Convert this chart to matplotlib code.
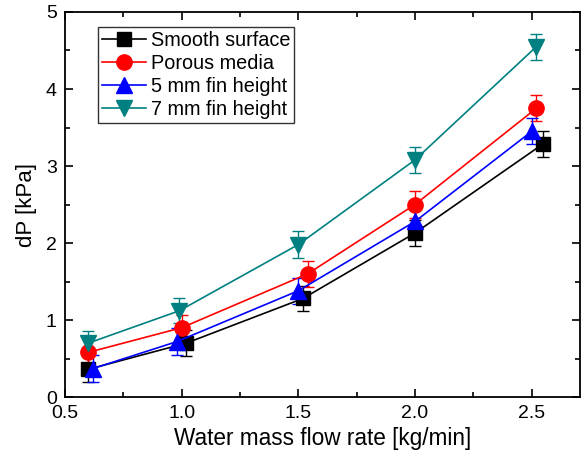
import matplotlib
matplotlib.use("Agg")
import matplotlib.pyplot as plt
from matplotlib.ticker import MultipleLocator

plt.rcParams['font.family'] = ['Liberation Sans', 'DejaVu Sans']

labels = ["Smooth surface", "Porous media", "5 mm fin height", "7 mm fin height"]
colors = ["#000000", "#FF0000", "#0000FF", "#008080"]
markers = ["s", "o", "^", "v"]
msizes = [9.5, 11, 11.5, 11.5]

x_smooth = [0.60, 1.02, 1.52, 2.00, 2.55]
y_smooth = [0.36, 0.70, 1.28, 2.13, 3.29]
e_smooth = [0.17, 0.17, 0.16, 0.17, 0.17]

x_porous = [0.60, 1.00, 1.54, 2.00, 2.52]
y_porous = [0.58, 0.90, 1.60, 2.50, 3.75]
e_porous = [0.17, 0.16, 0.17, 0.17, 0.17]

x_fin5 = [0.62, 0.98, 1.50, 2.00, 2.50]
y_fin5 = [0.37, 0.72, 1.38, 2.28, 3.45]
e_fin5 = [0.18, 0.17, 0.17, 0.17, 0.17]

x_fin7 = [0.60, 0.99, 1.50, 2.00, 2.52]
y_fin7 = [0.70, 1.12, 1.98, 3.08, 4.55]
e_fin7 = [0.16, 0.16, 0.17, 0.17, 0.17]

series = [(x_smooth, y_smooth, e_smooth), (x_porous, y_porous, e_porous),
          (x_fin5, y_fin5, e_fin5), (x_fin7, y_fin7, e_fin7)]

fig = plt.figure(figsize=(5.83, 4.51), dpi=100)
ax = fig.add_axes([0.1115, 0.1197, 0.8834, 0.8537])

for (xs, ys, es), lab, c, m, ms in zip(series, labels, colors, markers, msizes):
    ax.errorbar(xs, ys, yerr=es, color=c, marker=m, markersize=ms, lw=1.2,
                elinewidth=1.0, capsize=4, capthick=1.0, label=lab)

ax.set_xlim(0.5, 2.707)
ax.set_ylim(0, 5)
ax.xaxis.set_major_locator(MultipleLocator(0.5))
ax.xaxis.set_minor_locator(MultipleLocator(0.25))
ax.yaxis.set_major_locator(MultipleLocator(1))
ax.yaxis.set_minor_locator(MultipleLocator(0.5))
ax.xaxis.set_major_formatter(matplotlib.ticker.FormatStrFormatter('%.1f'))
ax.tick_params(which='both', direction='in', top=True, right=True, labelsize=14, width=1.2)
ax.tick_params(which='major', length=6, pad=6)
ax.tick_params(which='minor', length=3.5)
for sp in ax.spines.values():
    sp.set_linewidth(1.3)

ax.set_xlabel("Water mass flow rate [kg/min]", fontsize=16.3, labelpad=3)
ax.set_ylabel("dP [kPa]", fontsize=16, labelpad=6)

handles, labs = ax.get_legend_handles_labels()
handles = [h[0] for h in handles]
leg = ax.legend(handles, labs, loc='upper left', bbox_to_anchor=(0.064, 0.96),
                fontsize=14.3, frameon=True, fancybox=False, edgecolor='black',
                handlelength=2.2, handletextpad=0.25, borderpad=0.2,
                labelspacing=0.2, borderaxespad=0)
leg.get_frame().set_linewidth(1.0)

fig.savefig("out.png", dpi=100)
